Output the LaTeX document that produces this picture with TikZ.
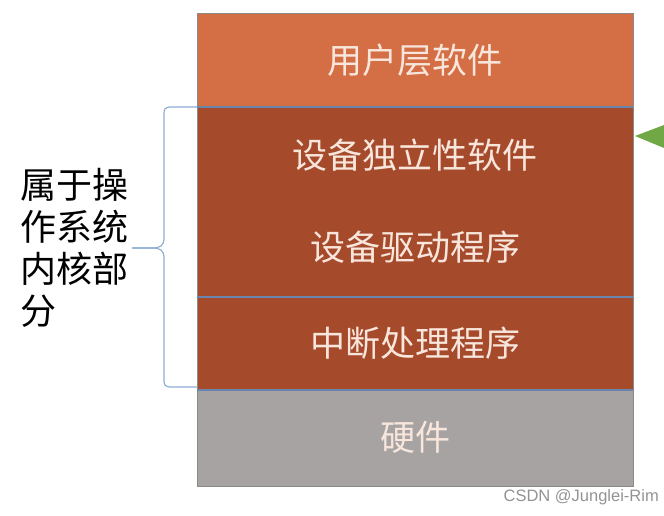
\documentclass[tikz,border=0pt]{standalone}
\usepackage{fontspec}
\newfontfamily\cjk{Noto Sans CJK SC}
\newfontfamily\wm{Liberation Sans}
\definecolor{userc}{HTML}{D46E45}
\definecolor{rust}{HTML}{A64A2C}
\definecolor{hwc}{HTML}{A6A3A2}
\definecolor{divc}{HTML}{6A85AD}
\definecolor{bordc}{HTML}{8A8A8A}
\definecolor{bracec}{HTML}{8DAED3}
\definecolor{txtc}{HTML}{F8E6DC}
\definecolor{greenc}{HTML}{6FA845}
\begin{document}
\begin{tikzpicture}[x=1pt,y=-1pt,
  layer/.style={rectangle, draw=bordc, line width=0.8pt, minimum width=436pt, inner sep=0pt, outer sep=0pt},
  ltext/.style={text=txtc, font=\cjk\fontsize{35}{35}\selectfont},
  divider/.style={draw=divc, line width=1.4pt}]
\useasboundingbox (0,0) rectangle (664,516);
\node[layer, fill=userc, minimum height=94pt] (user) at (415,60) {};
\node[layer, fill=rust, minimum height=190pt] (mid) at (415,202) {};
\node[layer, fill=rust, minimum height=93pt] (intr) at (415,343.5) {};
\node[layer, fill=hwc, minimum height=96pt] (hw) at (415,438) {};
\draw[divider] (user.south west) -- (user.south east);
\draw[divider] (intr.north west) -- (intr.north east);
\draw[divider] (intr.south west) -- (intr.south east);
\node[ltext] (t1) at (415,60) {用户层软件};
\node[ltext] (t2) at (415,155) {设备独立性软件};
\node[ltext] (t3) at (415,247) {设备驱动程序};
\node[ltext] (t4) at (415,343) {中断处理程序};
\node[ltext] (t5) at (415,437) {硬件};
% brace
\coordinate (btop) at (197,107);
\coordinate (bbot) at (197,387);
\coordinate (btip) at (132,248);
\draw[bracec, line width=1.2pt] (btop) -- (172,107) .. controls (164,107) and (164,109) .. (164,116) -- (164,238) .. controls (164,246) and (160,248) .. (152,248) -- (btip);
\draw[bracec, line width=1.2pt] (bbot) -- (172,387) .. controls (164,387) and (164,385) .. (164,378) -- (164,258) .. controls (164,250) and (160,248) .. (152,248) -- (btip);
% left label
\node[align=left, anchor=north west, inner sep=0pt, font=\cjk\fontsize{36}{42}\selectfont] (lab) at (20,168) {属于操\\作系统\\内核部\\分};
% green triangle
\fill[greenc] (635,136) -- (664,125) -- (664,148) -- cycle;
% watermark
\node[anchor=east, inner sep=0pt, text=gray!85, font=\wm\fontsize{16.5}{16.5}\selectfont] (wm) at (659,497) {CSDN @Junglei-Rim};
\end{tikzpicture}
\end{document}
